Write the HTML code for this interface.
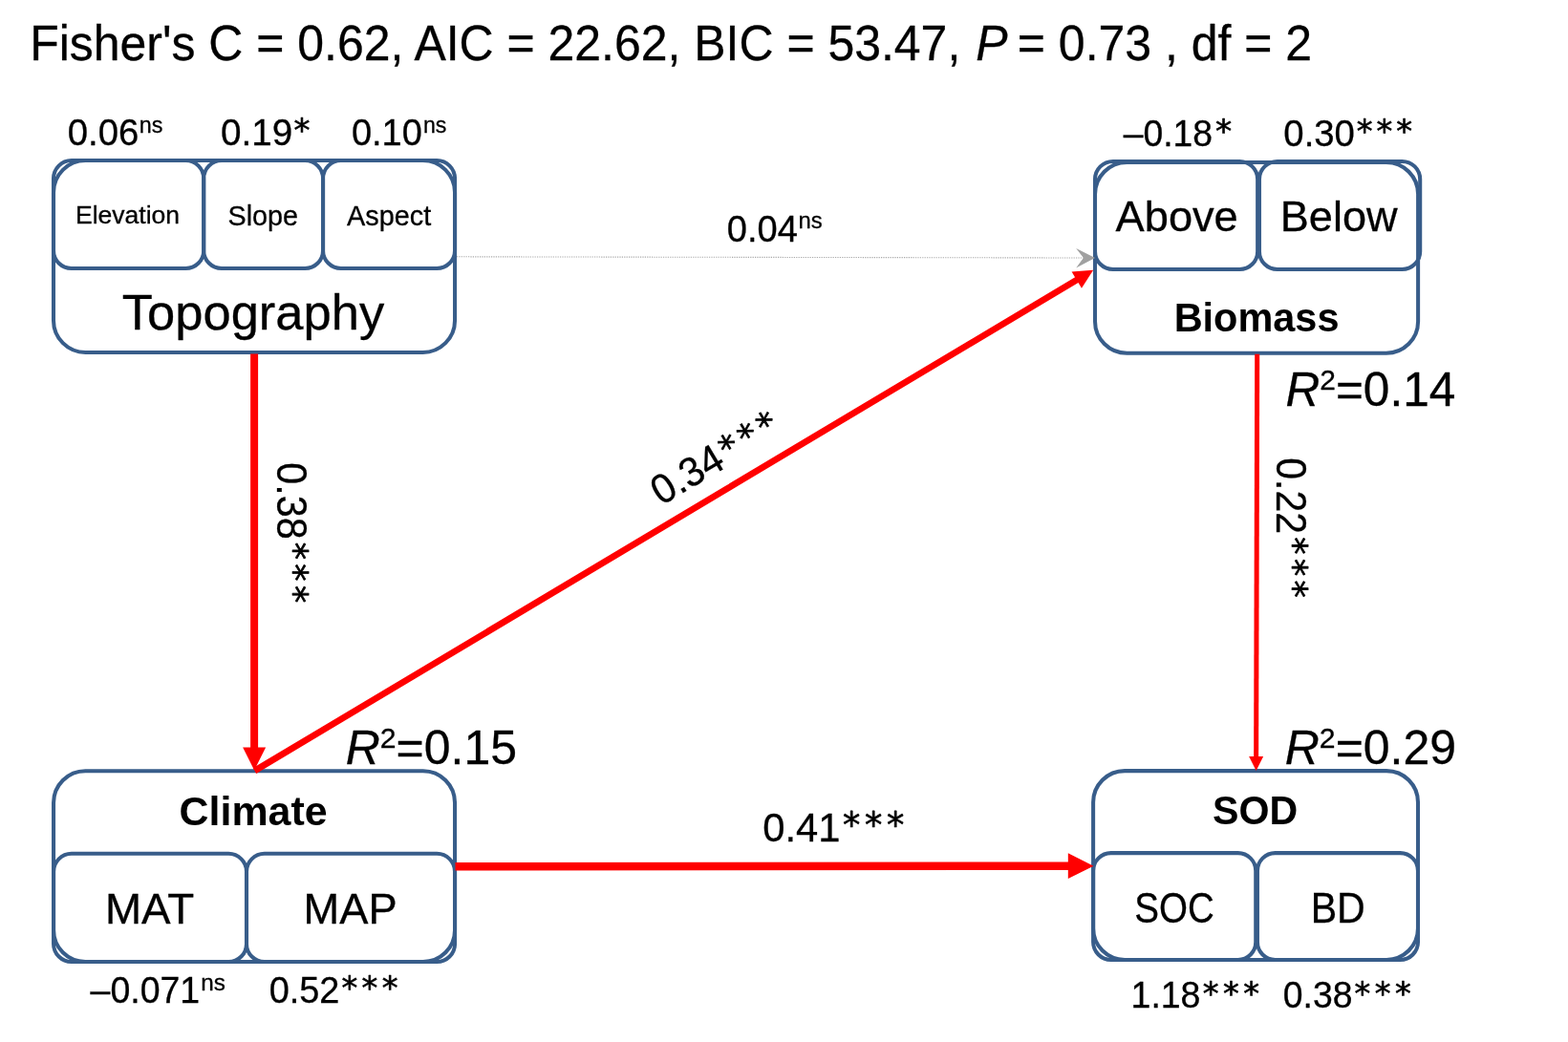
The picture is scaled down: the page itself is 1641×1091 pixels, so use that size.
<!DOCTYPE html>
<html lang="en">
<head>
<meta charset="utf-8">
<title>Path model</title>
<style>
html,body{margin:0;padding:0;background:#fff;}
body{width:1641px;height:1091px;overflow:hidden;}
svg{display:block;will-change:transform;}
text{fill:#000;}
.a{font-family:"Liberation Sans",Arial,sans-serif;}
.c{font-family:"Liberation Sans",Arial,sans-serif;}
.a,.c{stroke:#000;stroke-width:0.3px;}
.b{stroke:none;}
.d{font-family:"DejaVu Sans","Liberation Sans",sans-serif;stroke:#000;stroke-width:0.65px;stroke-linejoin:round;}
.b{font-weight:bold;}
</style>
</head>
<body>
<svg width="1641" height="1091" viewBox="0 0 1641 1091" role="img" aria-label="Path model diagram">
<rect x="0" y="0" width="1641" height="1091" fill="#fff"/>
<rect x="56.0" y="168.05" width="420.05" height="200.90" rx="33.48" ry="33.48" fill="none" stroke="#385D8A" stroke-width="4.05"/>
<rect x="56.0" y="168.05" width="157.20" height="112.95" rx="18.82" ry="18.82" fill="none" stroke="#385D8A" stroke-width="4.05"/>
<rect x="213.2" y="168.05" width="124.85" height="112.95" rx="18.82" ry="18.82" fill="none" stroke="#385D8A" stroke-width="4.05"/>
<rect x="338.05" y="168.05" width="138.00" height="112.95" rx="18.82" ry="18.82" fill="none" stroke="#385D8A" stroke-width="4.05"/>
<rect x="1146" y="169.95" width="338.10" height="199.85" rx="33.31" ry="33.31" fill="none" stroke="#385D8A" stroke-width="4.05"/>
<rect x="1146" y="168.9" width="170.15" height="113.15" rx="18.86" ry="18.86" fill="none" stroke="#385D8A" stroke-width="4.05"/>
<rect x="1317.95" y="168.9" width="168.25" height="113.15" rx="18.86" ry="18.86" fill="none" stroke="#385D8A" stroke-width="4.05"/>
<rect x="56.05" y="807.2" width="420.00" height="199.80" rx="33.3" ry="33.3" fill="none" stroke="#385D8A" stroke-width="4.05"/>
<rect x="56.05" y="893.8" width="201.95" height="113.20" rx="18.87" ry="18.87" fill="none" stroke="#385D8A" stroke-width="4.05"/>
<rect x="258.0" y="893.8" width="218.05" height="113.20" rx="18.87" ry="18.87" fill="none" stroke="#385D8A" stroke-width="4.05"/>
<rect x="1144.1" y="807.1" width="339.90" height="197.85" rx="32.98" ry="32.98" fill="none" stroke="#385D8A" stroke-width="4.05"/>
<rect x="1144.1" y="893.1" width="170.15" height="111.85" rx="18.64" ry="18.64" fill="none" stroke="#385D8A" stroke-width="4.05"/>
<rect x="1315.95" y="893.1" width="168.05" height="111.85" rx="18.64" ry="18.64" fill="none" stroke="#385D8A" stroke-width="4.05"/>
<line x1="478" y1="268.8" x2="1134" y2="270" stroke="#a6a6a6" stroke-width="1.1" stroke-dasharray="1.2 1.2"/>
<polygon points="1146,270 1126.2,260.1 1133.9,270 1126.2,280.6" fill="#a0a0a0"/>
<line x1="266.10" y1="370.50" x2="266.10" y2="783.50" stroke="#FF0000" stroke-width="8"/>
<polygon points="266.10,806.50 254.10,782.50 278.10,782.50" fill="#FF0000"/>
<line x1="266.50" y1="807.00" x2="1127.63" y2="292.60" stroke="#FF0000" stroke-width="6.7"/>
<polygon points="1144.20,282.70 1131.98,301.82 1121.57,284.40" fill="#FF0000"/>
<line x1="1315.70" y1="370.70" x2="1314.64" y2="793.10" stroke="#FF0000" stroke-width="5"/>
<polygon points="1314.60,807.10 1307.14,792.08 1322.14,792.12" fill="#FF0000"/>
<line x1="476.50" y1="907.30" x2="1118.80" y2="906.72" stroke="#FF0000" stroke-width="8.6"/>
<polygon points="1144.50,906.70 1117.81,920.07 1117.79,893.37" fill="#FF0000"/>
<text class="a" font-size="50" transform="translate(31.15,63.20) scale(0.9990,1.0350)">Fisher's C = 0.62, AIC = 22.62, BIC = 53.47, <tspan font-style="italic" dx="2">P</tspan><tspan dx="-3.5"> = 0.73 , df = 2</tspan></text>
<text class="c" font-size="38.3" transform="translate(70.82,151.97) scale(0.9995,1.0000)">0.06</text>
<text class="c" font-size="23.5" transform="translate(145.83,138.99) scale(0.9937,1.0000)">ns</text>
<text class="c" font-size="38.3" transform="translate(231.00,151.97) scale(1.0107,1.0000)">0.19</text>
<text class="d" font-size="33.5" transform="translate(307.43,148.34) scale(1.0109,1.0000)">*</text>
<text class="c" font-size="38.3" transform="translate(367.93,151.97) scale(0.9926,1.0000)">0.10</text>
<text class="c" font-size="23.5" transform="translate(442.95,138.99) scale(0.9847,1.0000)">ns</text>
<text class="c" font-size="38.3" transform="translate(760.73,252.87) scale(0.9943,1.0000)">0.04</text>
<text class="c" font-size="23.5" transform="translate(835.50,239.49) scale(1.0159,1.0000)">ns</text>
<text class="c" font-size="38.3" transform="translate(1175.75,153.17) scale(0.9733,1.0000)">–0.18</text>
<text class="d" font-size="33.5" transform="translate(1272.12,149.24) scale(1.0244,1.0000)">*</text>
<text class="c" font-size="38.3" transform="translate(1343.32,153.17) scale(1.0010,1.0000)">0.30</text>
<text class="d" font-size="33.5" letter-spacing="3.99" transform="translate(1419.74,149.24) scale(1.0016,1.0000)">***</text>
<text class="c" font-size="38.3" transform="translate(94.55,1049.77) scale(0.9793,1.0000)">–0.071</text>
<text class="c" font-size="23.5" transform="translate(210.27,1037.39) scale(1.0338,1.0000)">ns</text>
<text class="c" font-size="38.3" transform="translate(281.63,1049.77) scale(0.9909,1.0000)">0.52</text>
<text class="d" font-size="33.5" letter-spacing="4.39" transform="translate(357.44,1046.04) scale(1.0009,1.0000)">***</text>
<text class="c" font-size="38.3" transform="translate(1183.54,1055.27) scale(0.9788,1.0000)">1.18</text>
<text class="d" font-size="33.5" letter-spacing="4.49" transform="translate(1258.84,1051.54) scale(1.0014,1.0000)">***</text>
<text class="c" font-size="38.3" transform="translate(1342.76,1055.27) scale(0.9758,1.0000)">0.38</text>
<text class="d" font-size="33.5" letter-spacing="4.59" transform="translate(1417.45,1051.54) scale(0.9991,1.0000)">***</text>
<text class="c" font-size="42.0" transform="translate(798.28,881.13) scale(0.9935,1.0000)">0.41</text>
<text class="d" font-size="36.5" letter-spacing="4.71" transform="translate(882.05,877.16) scale(1.0021,1.0000)">***</text>
<text class="c" font-size="43.5" transform="translate(289.50,0.00) rotate(90) translate(484.30,-0.28) scale(0.9491,1.0000)">0.38</text>
<text class="d" font-size="36.5" letter-spacing="4.31" transform="translate(289.50,0.00) rotate(90) translate(567.75,-5.54) scale(1.0010,1.0000)">***</text>
<text class="c" font-size="43.5" transform="translate(1335.40,0.00) rotate(90) translate(479.21,-0.28) scale(0.9443,1.0000)">0.22</text>
<text class="d" font-size="36.5" letter-spacing="4.38" transform="translate(1335.40,0.00) rotate(90) translate(562.26,-5.94) scale(0.9997,1.0000)">***</text>
<text class="c" font-size="43" transform="translate(746.50,497.60) rotate(-30.8) translate(-63.40,-0.28) scale(0.9612,1.0000)">0.34</text>
<text class="d" font-size="36.5" letter-spacing="4.71" transform="translate(746.50,497.60) rotate(-30.8) translate(20.15,-4.14) scale(1.0021,1.0000)">***</text>
<text class="c" font-size="25.4" transform="translate(78.93,233.65) scale(1.0452,1.0000)">Elevation</text>
<text class="c" font-size="29.7" transform="translate(238.56,235.75) scale(0.9678,1.0000)">Slope</text>
<text class="c" font-size="29.7" transform="translate(363.01,235.55) scale(0.9720,1.0000)">Aspect</text>
<text class="c" font-size="51.3" transform="translate(127.84,345.35) scale(1.0234,1.0000)">Topography</text>
<text class="c" font-size="44.2" transform="translate(1167.62,242.35) scale(1.0228,1.0000)">Above</text>
<text class="c" font-size="44.2" transform="translate(1339.74,242.35) scale(1.0205,1.0000)">Below</text>
<text class="c b" font-size="42.8" transform="translate(1228.65,347.35) scale(0.9691,1.0000)">Biomass</text>
<text class="c b" font-size="42.8" transform="translate(187.53,863.65) scale(1.0039,1.0000)">Climate</text>
<text class="c b" font-size="42.8" transform="translate(1269.02,862.95) scale(0.9613,1.0000)">SOD</text>
<text class="c" font-size="44.6" transform="translate(109.89,966.95) scale(1.0266,1.0000)">MAT</text>
<text class="c" font-size="44.6" transform="translate(317.53,966.95) scale(1.0148,1.0000)">MAP</text>
<text class="c" font-size="44.6" transform="translate(1187.21,966.25) scale(0.8645,1.0000)">SOC</text>
<text class="c" font-size="44.2" transform="translate(1371.66,965.95) scale(0.9301,1.0000)">BD</text>
<text class="a" font-size="48" transform="translate(1345.46,425.20) scale(1.0328,1.0350)"><tspan font-style="italic">R</tspan><tspan font-size="29" dy="-16.5">2</tspan><tspan dy="16.5">=0.14</tspan></text>
<text class="a" font-size="48" transform="translate(361.75,799.70) scale(1.0408,1.0350)"><tspan font-style="italic">R</tspan><tspan font-size="29" dy="-16.5">2</tspan><tspan dy="16.5">=0.15</tspan></text>
<text class="a" font-size="48" transform="translate(1344.75,799.70) scale(1.0411,1.0350)"><tspan font-style="italic">R</tspan><tspan font-size="29" dy="-16.5">2</tspan><tspan dy="16.5">=0.29</tspan></text>
</svg>
</body>
</html>
